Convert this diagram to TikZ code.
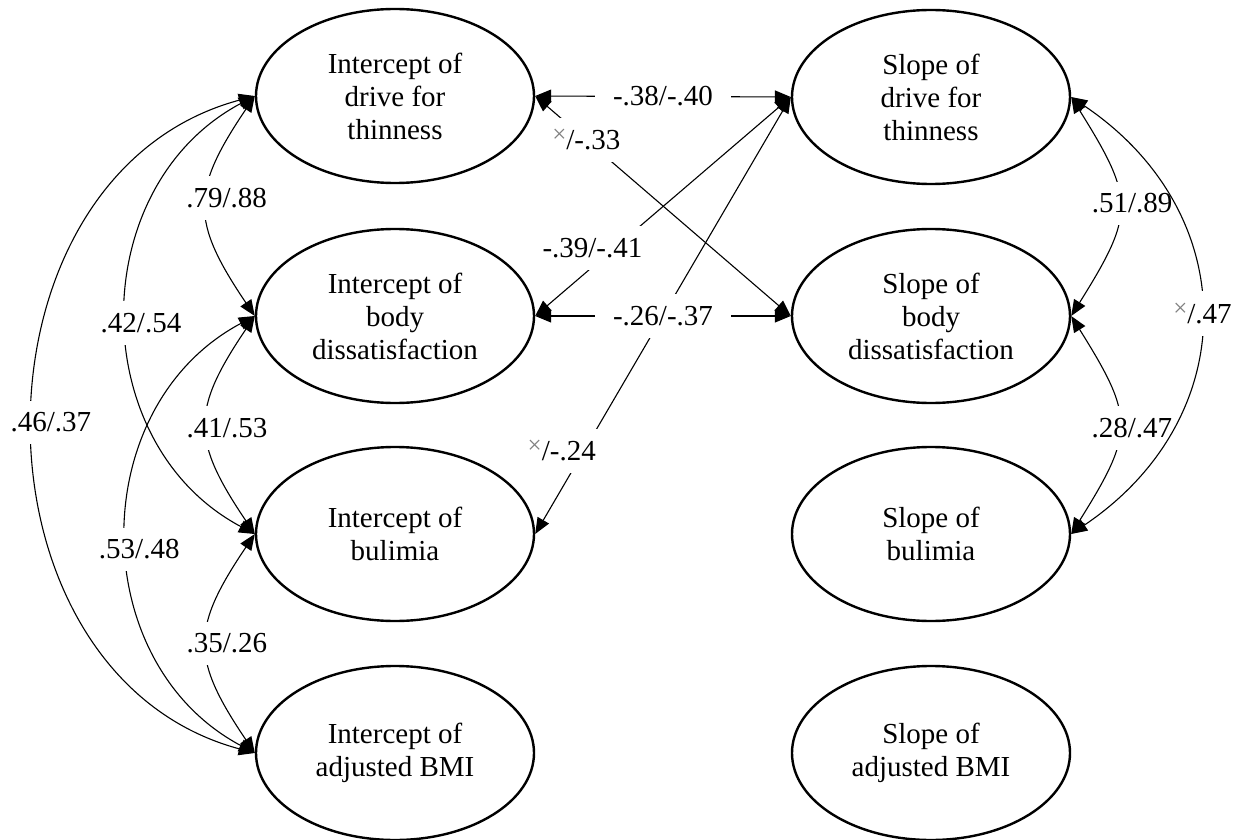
\documentclass[tikz,border=0pt]{standalone}
\usepackage{fontspec}
\setmainfont{Liberation Serif}
\usetikzlibrary{shapes.geometric,arrows.meta}
\tikzset{
  lat/.style={ellipse, draw=black, line width=2.4pt, minimum width=278pt, minimum height=174pt, inner sep=0pt, align=center, font=\fontsize{29}{33}\selectfont},
  cov/.style={{Triangle[length=16pt,width=13pt]}-{Triangle[length=16pt,width=13pt]}, line width=1.1pt},
  slab/.style={fill=white, inner xsep=18pt, inner ysep=12pt, font=\fontsize{29}{33}\selectfont},
  clab/.style={fill=white, inner xsep=4pt, inner ysep=12pt, font=\fontsize{29}{33}\selectfont},
}
\newcommand{\xmark}{\raisebox{7pt}{\fontsize{25}{25}\selectfont\textcolor{gray}{×}}}
\begin{document}
\begin{tikzpicture}[x=1pt,y=1pt]
\useasboundingbox (0,0) rectangle (1240,-840);
% nodes
\node[lat] (I1) at (395,-96) {Intercept of\\drive for\\thinness};
\node[lat] (I2) at (395,-316) {Intercept of\\body\\dissatisfaction};
\node[lat] (I3) at (395,-534) {Intercept of\\bulimia};
\node[lat] (I4) at (395,-753) {Intercept of\\adjusted BMI};
\node[lat] (S1) at (931,-97) {Slope of\\drive for\\thinness};
\node[lat] (S2) at (931,-316) {Slope of\\body\\dissatisfaction};
\node[lat] (S3) at (931,-534) {Slope of\\bulimia};
\node[lat] (S4) at (931,-753) {Slope of\\adjusted BMI};
% diagonal covariances
\draw[cov] (I1.east) -- node[slab, pos=0.2, inner xsep=2pt]{\xmark/-.33} (S2.west);
\draw[cov] (I2.east) -- node[slab, pos=0.31, xshift=-22pt, inner xsep=6pt]{-.39/-.41} (S1.west);
\draw[cov] (I3.east) -- node[slab, pos=0.19, xshift=-22pt, inner xsep=6pt]{\xmark/-.24} (S1.west);
% horizontal covariances
\draw[cov] (I1.east) -- node[slab]{-.38/-.40} (S1.west);
\draw[cov] (I2.east) -- node[slab]{-.26/-.37} (S2.west);
% left arcs (short first)
\draw[cov] (I1.west) to[out=236,in=124,looseness=1.34] node[clab, xshift=20pt, yshift=8pt]{.79/.88} (I2.west);
\draw[cov] (I2.west) to[out=236,in=124,looseness=1.34] node[clab, xshift=20pt, yshift=-3pt]{.41/.53} (I3.west);
\draw[cov] (I3.west) to[out=236,in=124,looseness=1.34] node[clab, xshift=20pt]{.35/.26} (I4.west);
\draw[cov] (I1.west) to[out=208,in=152,looseness=1.13] node[clab, xshift=14pt, yshift=-8pt]{.42/.54} (I3.west);
\draw[cov] (I2.west) to[out=208,in=152,looseness=1.13] node[clab, xshift=12pt, yshift=-15pt]{.53/.48} (I4.west);
\draw[cov] (I1.west) to[out=195,in=165,looseness=1.19] node[clab, xshift=17pt, yshift=2pt]{.46/.37} (I4.west);
% right arcs
\draw[cov] (S1.east) to[out=-58,in=58,looseness=1.41] node[clab, xshift=13pt, yshift=3pt]{.51/.89} (S2.east);
\draw[cov] (S2.east) to[out=-58,in=58,looseness=1.41] node[clab, xshift=13pt, yshift=-3pt]{.28/.47} (S3.east);
\draw[cov] (S1.east) to[out=-34,in=34,looseness=1.22] node[clab, xshift=2pt, yshift=2pt, inner xsep=2pt]{\xmark/.47} (S3.east);
\end{tikzpicture}
\end{document}
